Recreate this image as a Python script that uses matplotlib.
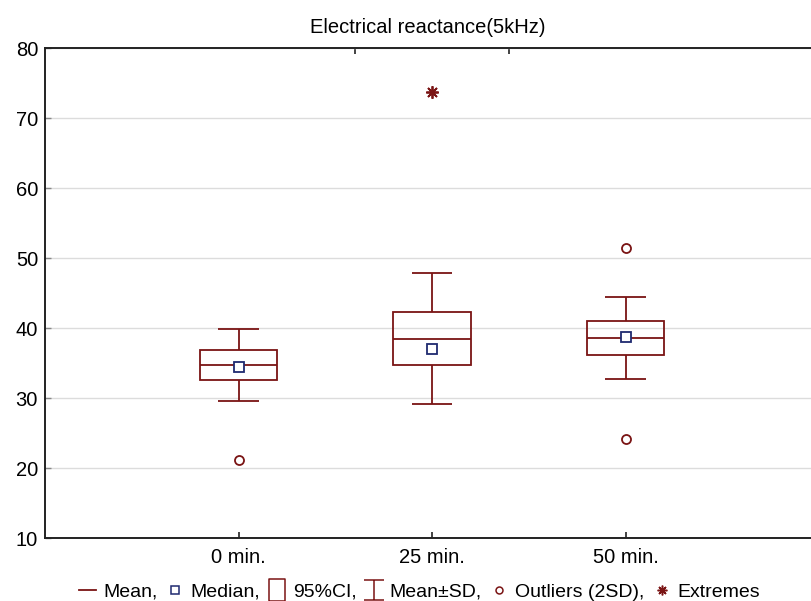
import numpy as np
import matplotlib
matplotlib.use('Agg')
import matplotlib.pyplot as plt
from matplotlib.lines import Line2D
from matplotlib.path import Path
from matplotlib.ticker import FixedLocator

plt.rcParams['font.family'] = ['Liberation Sans', 'DejaVu Sans']

groups = ['0 min.', '25 min.', '50 min.']
mean = np.array([34.7, 38.5, 38.6])
sd = np.array([5.15, 9.3, 5.9])
ci_half = np.array([2.1, 3.8, 2.45])
median = np.array([34.4, 37.0, 38.7])
outlier_grp = [1, 3, 3]
outlier_val = [21.1, 51.4, 24.1]
extreme_grp = [2]
extreme_val = [73.7]

red = '#7a1414'
blue = '#1f2a70'

fig = plt.figure(figsize=(8.11, 6.01), dpi=100)
ax = fig.add_axes([0.0555, 0.1048, 0.9445, 0.8152])

x = np.arange(1, len(groups) + 1)
box_w = 0.40
cap_w = 0.21

ax.set_axisbelow(True)
ax.grid(axis='y', color='#dcdcdc', lw=1)

# 95% CI boxes
ax.bar(x, 2 * ci_half, bottom=mean - ci_half, width=box_w, fill=False,
       edgecolor=red, lw=1.3, zorder=3)
# mean line
ax.hlines(mean, x - box_w / 2, x + box_w / 2, color=red, lw=1.3, zorder=3)
# mean +- SD whiskers
ax.vlines(x, mean + ci_half, mean + sd, color=red, lw=1.3, zorder=3)
ax.vlines(x, mean - sd, mean - ci_half, color=red, lw=1.3, zorder=3)
ax.hlines(mean + sd, x - cap_w / 2, x + cap_w / 2, color=red, lw=1.3, zorder=3)
ax.hlines(mean - sd, x - cap_w / 2, x + cap_w / 2, color=red, lw=1.3, zorder=3)
# medians
ax.plot(x, median, ls='none', marker='s', ms=6.5, mfc='white', mec=blue, mew=1.3, zorder=4)
# outliers and extremes
ax.plot(outlier_grp, outlier_val, ls='none', marker='o', ms=6.5, mfc='white', mec=red, mew=1.3, zorder=4)
ax.plot(extreme_grp, extreme_val, ls='none', marker=(8, 2, 0), ms=9, mec=red, mew=1.3, zorder=4)

ax.set_xlim(0, 3.958)
ax.set_ylim(10, 80)
ax.set_yticks(range(10, 81, 10))
ax.set_xticks(x)
ax.set_xticklabels(groups)
ax.xaxis.set_minor_locator(FixedLocator([1.6, 2.4]))
ax.tick_params(axis='x', which='major', direction='in', length=4, width=1.2, labelsize=14.5, pad=7, color='#222222')
ax.tick_params(axis='x', which='minor', bottom=False, top=True, direction='in', length=4, width=1.2, color='#222222')
ax.tick_params(axis='y', direction='in', length=4, width=1, labelsize=14.5, pad=5, color='#888888')

for s in ['left', 'top', 'bottom']:
    ax.spines[s].set_color('#222222')
    ax.spines[s].set_linewidth(1.4)
ax.spines['right'].set_visible(False)

ax.set_title('Electrical reactance(5kHz)', fontsize=14.5, pad=11)

# legend markers
rect = Path([(-0.35, -0.5), (0.35, -0.5), (0.35, 0.5), (-0.35, 0.5), (-0.35, -0.5)])
ibeam = Path([(-0.5, 0.5), (0.5, 0.5), (0, 0.5), (0, -0.5), (-0.5, -0.5), (0.5, -0.5)],
             [Path.MOVETO, Path.LINETO, Path.MOVETO, Path.LINETO, Path.MOVETO, Path.LINETO])
handles = [
    Line2D([], [], color=red, lw=1.3),
    Line2D([], [], ls='none', marker='s', ms=6, mfc='white', mec=blue, mew=1.1),
    Line2D([], [], ls='none', marker=rect, ms=16, mfc='white', mec=red, mew=1.1),
    Line2D([], [], ls='none', marker=ibeam, ms=14, mfc='none', mec=red, mew=1.1),
    Line2D([], [], ls='none', marker='o', ms=5, mfc='white', mec=red, mew=1.1),
    Line2D([], [], ls='none', marker=(8, 2, 0), ms=7, mec=red, mew=1.1),
]
labels = ['Mean,', 'Median,', '95%CI,', 'Mean±SD,', 'Outliers (2SD),', 'Extremes']
fig.legend(handles, labels, loc='lower center', bbox_to_anchor=(0.517, -0.016), ncol=6,
           frameon=False, fontsize=14, handlelength=0.9, handletextpad=0.35,
           columnspacing=0.45, borderpad=0.0)

fig.savefig('out.png', dpi=100)
